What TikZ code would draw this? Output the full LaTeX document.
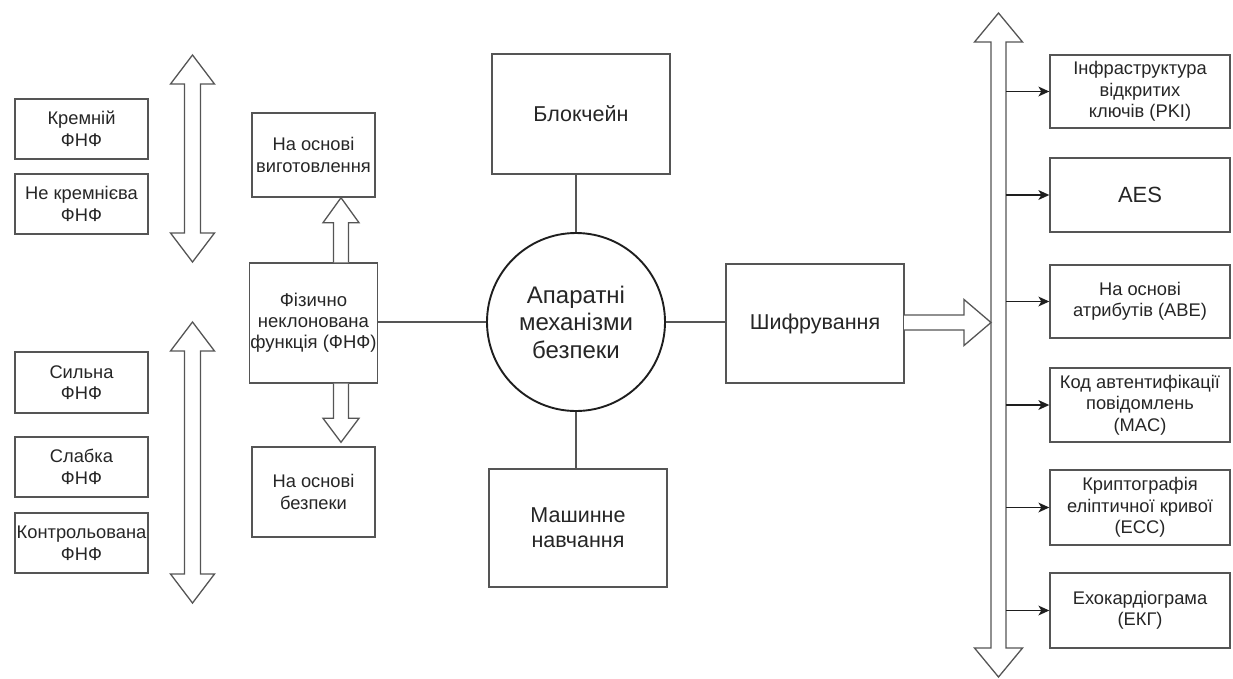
\documentclass[tikz,border=0pt]{standalone}
\usepackage{fontspec}
\setmainfont{Liberation Sans}
\usetikzlibrary{calc}

\definecolor{linec}{HTML}{555555}
\definecolor{txt}{HTML}{262626}
\definecolor{ringc}{HTML}{1E1E1E}

\newcommand\fs[2]{\fontsize{#1}{#2}\selectfont}

% vertical double block arrow: x, top tip, bottom tip, shaft half, head half, head length
\newcommand\vdouble[6]{%
  \draw[blockarrow] ({#1},{#2}) -- ({#1+#5},{#2+#6}) -- ({#1+#4},{#2+#6})
    -- ({#1+#4},{#3-#6}) -- ({#1+#5},{#3-#6}) -- ({#1},{#3})
    -- ({#1-#5},{#3-#6}) -- ({#1-#4},{#3-#6}) -- ({#1-#4},{#2+#6})
    -- ({#1-#5},{#2+#6}) -- cycle;}

% branch from the encryption bus into a box, with a filled arrowhead
\newcommand\feedto[1]{%
  \draw[feed] (bus |- #1.west) -- ($(#1.west)+(-6,0)$);
  \fill[ringc] (#1.west) -- ++(-11,-5) -- ++(3,5) -- ++(-3,5) -- cycle;}

\tikzset{
  box/.style={draw=linec, line width=1.4pt, fill=white, inner sep=1pt,
    align=center, text=txt},
  small/.style={font=\fs{18.3}{21.5}},
  pufs/.style={font=\fs{18.5}{21}},
  mid/.style={font=\fs{21.5}{25}},
  conn/.style={draw=linec, line width=1.3pt},
  feed/.style={draw=ringc, line width=1.3pt},
  blockarrow/.style={draw=linec, line width=1.3pt, fill=white, line join=miter},
}

\begin{document}
\begin{tikzpicture}[x=1pt, y=-1pt]
\useasboundingbox (0,0) rectangle (1233,678);

% left column: PUF kinds
\node[box, small, minimum width=133, minimum height=60] (k1) at (81.5,129) {Кремній\\ФНФ};
\node[box, small, minimum width=133, minimum height=60] (k2) at (81.5,204) {Не кремнієва\\ФНФ};
\node[box, small, minimum width=133, minimum height=61] (s1) at (81.5,382.5) {Сильна\\ФНФ};
\node[box, small, minimum width=133, minimum height=60] (s2) at (81.5,467) {Слабка\\ФНФ};
\node[box, small, minimum width=133, minimum height=60] (s3) at (81.5,543) {Контрольована\\ФНФ};

\vdouble{192.5}{55}{262}{8}{22}{29}
\vdouble{192.5}{322}{603}{8}{22}{29}

% PUF group
\node[box, pufs, minimum width=123, minimum height=120] (puf) at (313.5,323) {Фізично\\неклонована\\функція (ФНФ)};
\node[box, small, minimum width=123, minimum height=84] (man) at (313.5,155) {На основі\\виготовлення};
\node[box, small, minimum width=123, minimum height=90] (sec) at (313.5,492) {На основі\\безпеки};

% block arrows out of the PUF box
\coordinate (pu) at ($(puf.north)+(27.5,0)$);
\coordinate (mt) at (pu |- man.south);
\draw[blockarrow] ($(pu)+(-7.5,0)$) -- ($(mt)+(-7.5,25)$) -- ($(mt)+(-18,25)$) -- (mt)
  -- ($(mt)+(18,25)$) -- ($(mt)+(7.5,25)$) -- ($(pu)+(7.5,0)$);
\coordinate (pd) at ($(puf.south)+(27.5,0)$);
\coordinate (st) at ($(pd |- sec.north)+(0,-4)$);
\draw[blockarrow] ($(pd)+(-7.5,0)$) -- ($(st)+(-7.5,-24)$) -- ($(st)+(-18,-24)$) -- (st)
  -- ($(st)+(18,-24)$) -- ($(st)+(7.5,-24)$) -- ($(pd)+(7.5,0)$);

% centre
\node[draw=ringc, line width=1.9pt, circle, minimum size=178, inner sep=0, align=center,
  text=txt, font=\fs{24}{27.5}] (hw) at (576,322) {Апаратні\\механізми\\безпеки};
\node[box, mid, minimum width=178, minimum height=120] (bc) at (581,114) {Блокчейн};
\node[box, mid, minimum width=178, minimum height=118] (ml) at (578,528) {Машинне\\навчання};
\node[box, mid, minimum width=178, minimum height=119] (enc) at (815,323.5) {Шифрування};

\draw[conn] (puf.east |- hw.west) -- (hw.west);
\draw[conn] (hw.north) -- (hw.north |- bc.south);
\draw[conn] (hw.south) -- (hw.south |- ml.north);
\draw[conn] (hw.east) -- (hw.east -| enc.west);

% encryption bus
\vdouble{998.5}{13}{677}{7.5}{24}{29}
\coordinate (ea) at (904,322.5);
\coordinate (et) at (991,322.5);
\draw[blockarrow] ($(ea)+(0,-7.5)$) -- ($(et)+(-27,-7.5)$) -- ($(et)+(-27,-23)$) -- (et)
  -- ($(et)+(-27,23)$) -- ($(et)+(-27,7.5)$) -- ($(ea)+(0,7.5)$);
\coordinate (bus) at (1006,0);

\node[box, small, minimum width=180, minimum height=73] (r1) at (1140,91.5) {Інфраструктура\\відкритих\\ключів (PKI)};
\node[box, font=\fs{22}{26}, minimum width=180, minimum height=74] (r2) at (1140,195) {AES};
\node[box, small, minimum width=180, minimum height=73] (r3) at (1140,301.5) {На основі\\атрибутів (ABE)};
\node[box, small, minimum width=180, minimum height=74] (r4) at (1140,405) {Код автентифікації\\повідомлень\\(MAC)};
\node[box, small, minimum width=180, minimum height=75] (r5) at (1140,507.5) {Криптографія\\еліптичної кривої\\(ECC)};
\node[box, small, minimum width=180, minimum height=75] (r6) at (1140,610.5) {Ехокардіограма\\(ЕКГ)};

\feedto{r1}
\feedto{r2}
\feedto{r3}
\feedto{r4}
\feedto{r5}
\feedto{r6}
\end{tikzpicture}
\end{document}
